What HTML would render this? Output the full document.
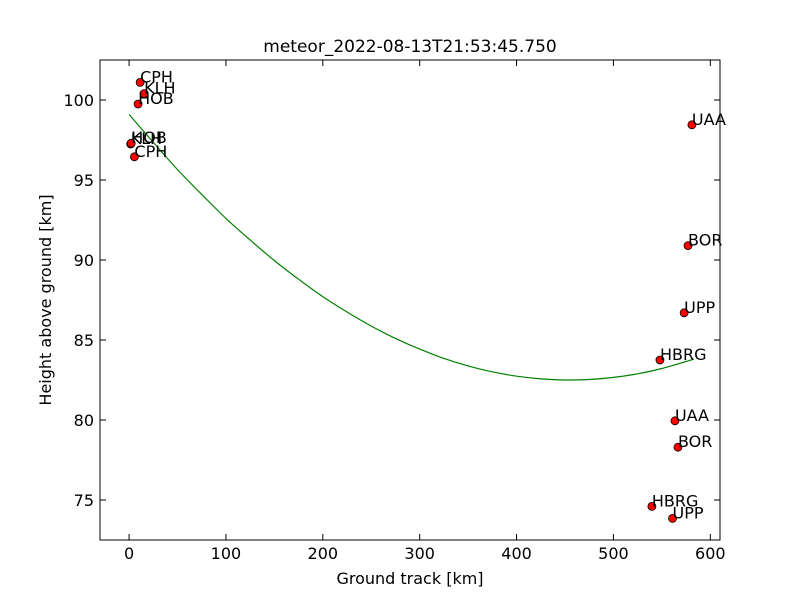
<!DOCTYPE html>
<html><head><meta charset="utf-8"><style>
body{margin:0;background:#fff}
svg{display:block;font-family:"DejaVu Sans","Liberation Sans",sans-serif}
</style></head><body>
<svg id="chart" width="800" height="600" xmlns="http://www.w3.org/2000/svg">
<rect width="800" height="600" fill="#fff"/>
<text x="410" y="52" font-size="17" text-anchor="middle">meteor_2022-08-13T21:53:45.750</text>
<text x="410" y="584" font-size="16" text-anchor="middle">Ground track [km]</text>
<text x="51" y="300" font-size="16" text-anchor="middle" transform="rotate(-90 51 300)">Height above ground [km]</text>
<g id="ticks"></g>
<g id="marks"></g>
<rect x="100" y="60" width="620" height="480" fill="none" stroke="#000" stroke-width="1"/>
</svg>
<script>
const xTicks=[0,100,200,300,400,500,600];
const yTicks=[75,80,85,90,95,100];
const stationNames=["CPH","KLH","HOB","KLH","HOB","CPH","UAA","BOR","UPP","HBRG","UAA","BOR","HBRG","UPP"];
const stationX=[11.4,15.5,9.3,1.7,2.2,5.5,581,577,573,548,563.5,566.6,539.7,561];
const stationY=[101.1,100.4,99.75,97.25,97.3,96.45,98.45,90.9,86.7,83.75,79.95,78.3,74.6,73.85];
const fitX=[0,25,50,75,100,125,150,175,200,225,250,275,300,325,350,375,400,425,450,475,500,525,550,583];
const fitY=[99.1,97.35,95.65,94.1,92.6,91.25,89.96,88.8,87.71,86.75,85.87,85.1,84.43,83.85,83.38,83.01,82.74,82.57,82.5,82.53,82.66,82.89,83.22,83.8];
const X0=-30,X1=610,Y0=72.5,Y1=102.5;
function sx(v){return 100+(v-X0)/(X1-X0)*620;}
function sy(v){return 540-(v-Y0)/(Y1-Y0)*480;}
const NS="http://www.w3.org/2000/svg";
const tg=document.getElementById('ticks'),mg=document.getElementById('marks');
function mk(t,a,p){const e=document.createElementNS(NS,t);for(const k in a)e.setAttribute(k,a[k]);p.appendChild(e);return e;}
xTicks.forEach(v=>{
 const x=sx(v);
 const l1=mk('line',{x1:x,x2:x,y1:540,y2:534,stroke:'#000'},tg);
 
 
 const l2=mk('line',{x1:x,x2:x,y1:60,y2:66,stroke:'#000'},tg);
 
 
 const t=mk('text',{x:x,y:559,'font-size':16,'text-anchor':'middle'},tg);t.textContent=v;
 
 
});
yTicks.forEach(v=>{
 const y=sy(v);
 const l1=mk('line',{x1:100,x2:106,y1:y,y2:y,stroke:'#000'},tg);
 
 
 const l2=mk('line',{x1:714,x2:720,y1:y,y2:y,stroke:'#000'},tg);
 
 
 const t=mk('text',{x:94,y:y+6,'font-size':16,'text-anchor':'end'},tg);t.textContent=v;
 
 
});
// smooth Catmull-Rom path through fit points
const P=fitX.map((v,i)=>[sx(v),sy(fitY[i])]);
let d='M'+P[0][0].toFixed(1)+','+P[0][1].toFixed(1);
for(let i=0;i<P.length-1;i++){
 const p0=P[Math.max(0,i-1)],p1=P[i],p2=P[i+1],p3=P[Math.min(P.length-1,i+2)];
 const c1=[p1[0]+(p2[0]-p0[0])/6,p1[1]+(p2[1]-p0[1])/6];
 const c2=[p2[0]-(p3[0]-p1[0])/6,p2[1]-(p3[1]-p1[1])/6];
 d+=' C'+c1[0].toFixed(1)+','+c1[1].toFixed(1)+' '+c2[0].toFixed(1)+','+c2[1].toFixed(1)+' '+p2[0].toFixed(1)+','+p2[1].toFixed(1);
}
const pl=mk('path',{d:d,fill:'none',stroke:'#008000','stroke-width':1.2},mg);


stationNames.forEach((n,i)=>{
 const x=sx(stationX[i]),y=sy(stationY[i]);
 const c=mk('circle',{cx:x,cy:y,r:4,fill:'#ff0000',stroke:'#000','stroke-width':0.8},mg);
 
 
 const t=mk('text',{x:x,y:y,'font-size':16},mg);t.textContent=n;
 
 
});
</script>
</body></html>
